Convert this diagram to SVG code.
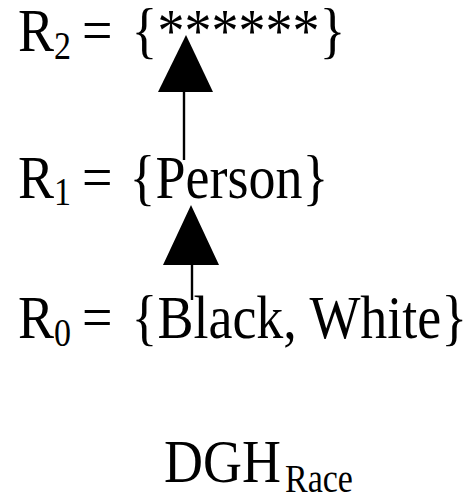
<svg xmlns="http://www.w3.org/2000/svg" width="471" height="496" viewBox="0 0 471 496">
<style>
text{font-family:'Liberation Serif','Times New Roman',serif;fill:#000;font-size:54px}
text.sub{font-size:34px}
.edge{stroke:#000;stroke-width:2.4;fill:none}
.head{fill:#000;stroke:none}
</style>
<rect width="471" height="496" fill="#fff"/>
<g id="connectors">
<line class="edge" x1="184" y1="160" x2="184" y2="90"/>
<polygon class="head" points="186,35 213,92 158,92"/>
<line class="edge" x1="192" y1="300" x2="192" y2="262"/>
<polygon class="head" points="191,205 219,265 163,265"/>
</g>
<g id="R2" transform="translate(0,51) scale(1,1.15)">
<text x="18" y="0">R</text><text class="sub" x="54" y="7">2</text><text x="82" y="0">=</text><text x="131.5" y="0">{******}</text>
</g>
<g id="R1" transform="translate(0,198) scale(1,1.15)">
<text x="18" y="0">R</text><text class="sub" x="54" y="6">1</text><text x="82" y="0">=</text><text x="129.5" y="0">{Person}</text>
</g>
<g id="R0" transform="translate(0,338) scale(1,1.15)">
<text x="18" y="0">R</text><text class="sub" x="54" y="7">0</text><text x="82" y="0">=</text><text x="131.5" y="0">{Black, White}</text>
</g>
<g id="title" transform="translate(0,482) scale(1,1.15)">
<text x="164" y="0">DGH</text><text class="sub" x="285" y="8.5">Race</text>
</g>
</svg>
